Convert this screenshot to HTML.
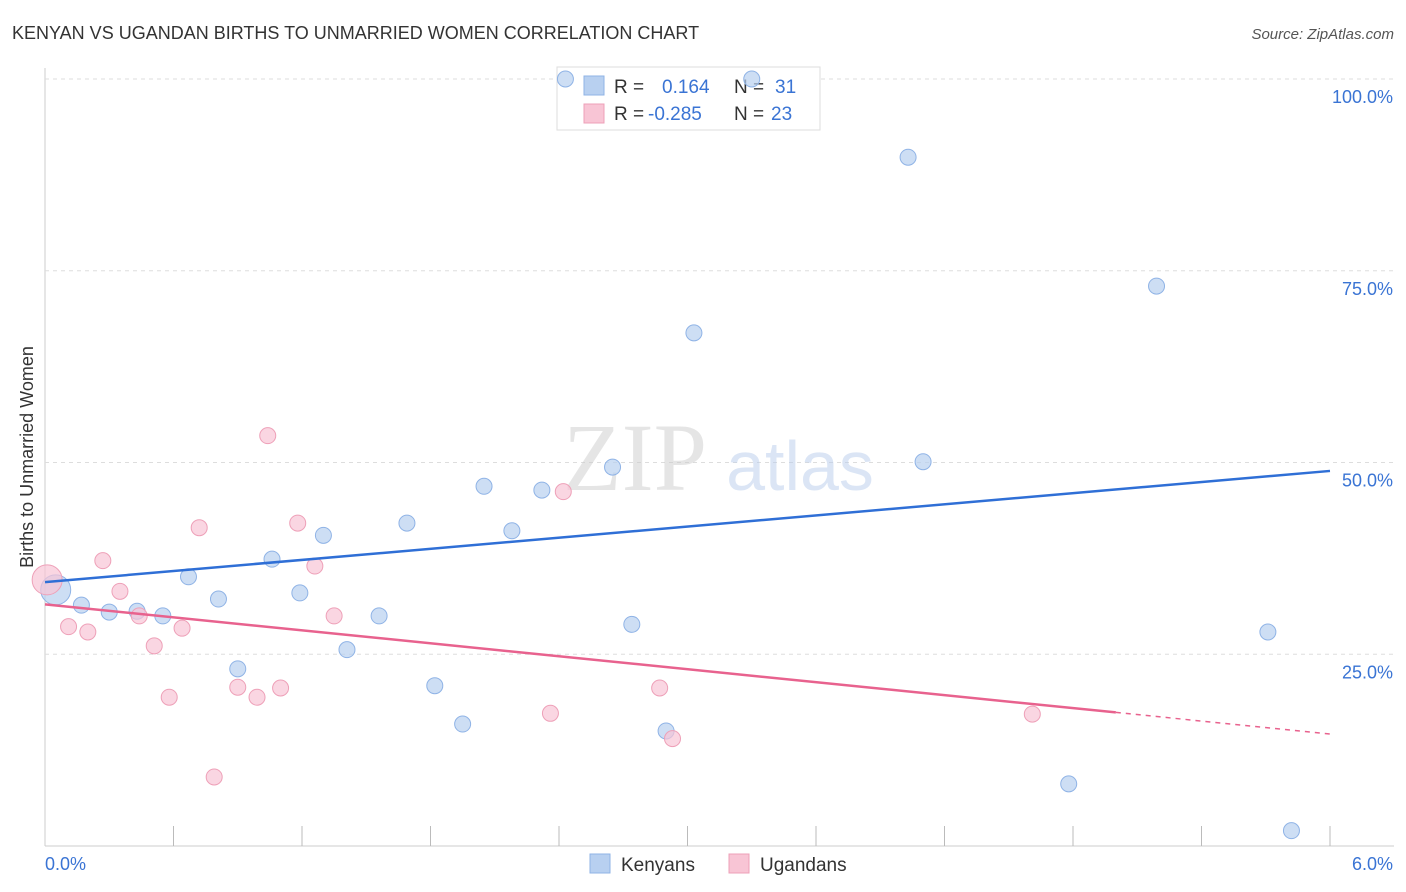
<!DOCTYPE html>
<html><head><meta charset="utf-8">
<style>
body{margin:0;background:#fff;font-family:"Liberation Sans",sans-serif;}
svg{display:block}
</style></head>
<body>
<svg id="chart" width="1406" height="892">
<text x="12" y="39" font-size="18" fill="#333">KENYAN VS UGANDAN BIRTHS TO UNMARRIED WOMEN CORRELATION CHART</text>
<text x="1394" y="39" font-size="15" fill="#555" text-anchor="end" font-style="italic">Source: ZipAtlas.com</text>
<text x="33" y="457" font-size="18" fill="#333" text-anchor="middle" transform="rotate(-90 33 457)">Births to Unmarried Women</text>
<g id="grid"></g>
<g id="wm" opacity="0.5">
<text x="635" y="490" font-size="96" fill="#ccc" font-family="Liberation Serif,serif" text-anchor="middle">ZIP</text>
<text x="800" y="490" font-size="70" fill="#b8cdec" text-anchor="middle">atlas</text>
</g>
<g>
<rect x="557" y="67" width="263" height="63" fill="#fff" stroke="#ddd"/>
<rect x="584" y="76" width="20" height="19" fill="#b8d0f0" stroke="#8fb3e6"/>
<rect x="584" y="104" width="20" height="19" fill="#f8c5d5" stroke="#eea0b8"/>
<text x="614" y="93" font-size="19" fill="#333">R = </text><text x="662" y="93" font-size="19" fill="#3a74d4">0.164</text>
<text x="734" y="93" font-size="19" fill="#333">N = </text><text x="775" y="93" font-size="19" fill="#3a74d4">31</text>
<text x="614" y="120" font-size="19" fill="#333">R = </text><text x="648" y="120" font-size="19" fill="#3a74d4">-0.285</text>
<text x="734" y="120" font-size="19" fill="#333">N = </text><text x="771" y="120" font-size="19" fill="#3a74d4">23</text>
</g>
<g id="marks"></g>
<g>
<rect x="590" y="854" width="20" height="19" fill="#b8d0f0" stroke="#8fb3e6"/>
<text x="621" y="871" font-size="19" fill="#333">Kenyans</text>
<rect x="729" y="854" width="20" height="19" fill="#f8c5d5" stroke="#eea0b8"/>
<text x="760" y="871" font-size="19" fill="#333">Ugandans</text>
</g>
</svg>
<script>
const yTicks=[25,50,75,100];
const xTickLabels=["0.0%","6.0%"];
const kenX=[0.05,0.17,0.30,0.43,0.55,0.67,0.81,0.90,1.06,1.19,1.30,1.41,1.56,1.69,1.82,1.95,2.05,2.18,2.32,2.43,2.65,2.74,2.90,3.03,3.30,4.03,4.10,4.78,5.19,5.71,5.82];
const kenY=[33.4,31.4,30.5,30.6,30.0,35.1,32.2,23.1,37.4,33.0,40.5,25.6,30.0,42.1,20.9,15.9,46.9,41.1,46.4,100,49.4,28.9,15.0,66.9,100,89.8,50.1,8.1,73.0,27.9,2.0];
const ugX=[0.01,0.11,0.20,0.27,0.35,0.44,0.51,0.58,0.64,0.72,0.79,0.90,0.99,1.04,1.10,1.18,1.26,1.35,2.36,2.42,2.87,2.93,4.61];
const ugY=[34.7,28.6,27.9,37.2,33.2,30.0,26.1,19.4,28.4,41.5,9.0,20.7,19.4,53.5,20.6,42.1,36.5,30.0,17.3,46.2,20.6,14.0,17.2];
const kenTrend=[34.4,48.9];
const ugTrend=[31.5,14.6];
const ugSolidEnd=5.0;
const sx=v=>45+v/6*1285;
const sy=v=>846-v/100*767;
const NS="http://www.w3.org/2000/svg";
function mk(p,t,a){const e=document.createElementNS(NS,t);for(const k in a)e.setAttribute(k,a[k]);p.appendChild(e);return e;}
const grid=document.getElementById('grid');
const L1=mk(grid,'line',{x1:45,x2:45,y1:68,y2:846,stroke:'#ccc'});


const L2=mk(grid,'line',{x1:45,x2:1394,y1:846,y2:846,stroke:'#ccc'});


yTicks.forEach(t=>{
 const g=mk(grid,'line',{x1:45,x2:1394,y1:sy(t),y2:sy(t),stroke:'#ddd','stroke-dasharray':'4,4'});
 
 
 const tx=mk(grid,'text',{x:1393,y:sy(t)+24,'font-size':18,fill:'#3a74d4','text-anchor':'end'});
 tx.textContent=t.toFixed(1)+'%';
 
 
});
for(let i=1;i<=10;i++){
 const x=sx(i*0.6);
 const t=mk(grid,'line',{x1:x,x2:x,y1:826,y2:846,stroke:'#bbb'});
 
 
}
const xl0=mk(grid,'text',{x:45,y:870,'font-size':18,fill:'#3a74d4'});xl0.textContent=xTickLabels[0];


const xl1=mk(grid,'text',{x:1393,y:870,'font-size':18,fill:'#3a74d4','text-anchor':'end'});xl1.textContent=xTickLabels[1];


const marks=document.getElementById('marks');
function pts(X,Y,fill,stroke,name){
 X.forEach((x,i)=>{
  const c=mk(marks,'circle',{cx:sx(x),cy:sy(Y[i]),r:i==0?15:8,fill:fill,stroke:stroke,'stroke-width':1,'fill-opacity':0.7});
  
  
 });
}
pts(kenX,kenY,'#b8d0f0','#8fb3e6','kenyan-point');
pts(ugX,ugY,'#f8c5d5','#eea0b8','ugandan-point');
const kt=mk(marks,'line',{x1:sx(0),y1:sy(kenTrend[0]),x2:sx(6),y2:sy(kenTrend[1]),stroke:'#2f6fd6','stroke-width':2.5});


const ugAt=x=>ugTrend[0]+(ugTrend[1]-ugTrend[0])*x/6;
const ut=mk(marks,'line',{x1:sx(0),y1:sy(ugTrend[0]),x2:sx(ugSolidEnd),y2:sy(ugAt(ugSolidEnd)),stroke:'#e8628e','stroke-width':2.5});


const ud=mk(marks,'line',{x1:sx(ugSolidEnd),y1:sy(ugAt(ugSolidEnd)),x2:sx(6),y2:sy(ugTrend[1]),stroke:'#e8628e','stroke-width':1.5,'stroke-dasharray':'5,5'});


</script>
</body></html>
